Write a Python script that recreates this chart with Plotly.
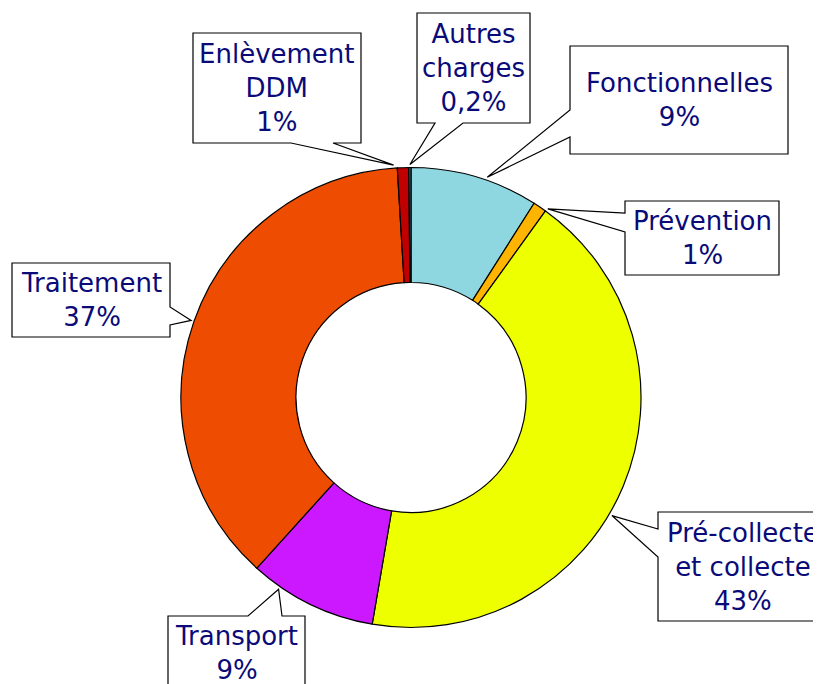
import math
import plotly.graph_objects as go

# ---- data ----
categories = ["Fonctionnelles", "Prévention", "Pré-collecte<br>et collecte", "Transport",
              "Traitement", "Enlèvement<br>DDM", "Autres<br>charges"]
values = [9.0, 0.95, 42.8, 9.0, 37.4, 0.8, 0.15]
pct_labels = ["9%", "1%", "43%", "9%", "37%", "1%", "0,2%"]

# ---- style ----
colors = ["#8ED6E0", "#FFB400", "#EEFF00", "#CC18FF", "#EE4C00", "#C00000", "#3D6E8C"]
TEXT_COLOR = "#0A0A78"
FONT = "DejaVu Sans, sans-serif"

OFF = 8                      # page body margin
W, H = 813, 676              # figure size
CX, CY, R = 411, 397.5, 230  # pie centre / radius in window pixels

# callout boxes in window pixels: (x0, y0, x1, y1, side of pointer, base start, base end)
boxes = [
    (570, 46, 788, 154, "left", 110, 137),
    (625, 201, 779, 275, "left", 213, 232),
    (658, 512, 828, 621, "left", 529, 557),
    (168, 616, 305, 690, "top", 248, 282),
    (12, 263, 170, 337, "right", 307, 325),
    (193, 33, 361, 143, "bottom", 291, 333),
    (417, 13, 530, 123, "bottom", 435, 463),
]
# where along each slice's angular span the pointer touches (0 = start, 1 = end)
anchor_frac = [0.59, 1.05, 0.55, 0.77, 0.5, -0.3, 0.5]


def px(x):
    return (x - OFF) / W


def py(y):
    return 1 - (y - OFF) / H


def P(x, y):
    return f"{px(x):.5f},{py(y):.5f}"


fig = go.Figure(go.Pie(
    labels=[c.replace("<br>", " ") for c in categories],
    values=values,
    sort=False,
    direction="clockwise",
    rotation=0,
    hole=0.5,
    textinfo="none",
    marker=dict(colors=colors, line=dict(color="black", width=1.2)),
    domain=dict(x=[px(CX - R), px(CX + R)], y=[py(CY + R), py(CY - R)]),
    showlegend=False,
))

total = sum(values)
cum = 0.0
shapes = []
annotations = []
for cat, v, pct, box, fr in zip(categories, values, pct_labels, boxes, anchor_frac):
    ang = (cum + v * fr) / total * 2 * math.pi
    cum += v
    tx = CX + (R + 3) * math.sin(ang)
    ty = CY - (R + 3) * math.cos(ang)
    x0, y0, x1, y1, side, a, b = box
    if side == "left":
        pts = [(x0, y0), (x1, y0), (x1, y1), (x0, y1), (x0, b), (tx, ty), (x0, a)]
    elif side == "right":
        pts = [(x0, y0), (x1, y0), (x1, a), (tx, ty), (x1, b), (x1, y1), (x0, y1)]
    elif side == "top":
        pts = [(x0, y0), (a, y0), (tx, ty), (b, y0), (x1, y0), (x1, y1), (x0, y1)]
    else:
        pts = [(x0, y0), (x1, y0), (x1, y1), (b, y1), (tx, ty), (a, y1), (x0, y1)]
    path = "M " + " L ".join(P(x, y) for x, y in pts) + " Z"
    shapes.append(dict(type="path", path=path, xref="paper", yref="paper",
                       fillcolor="white", line=dict(color="black", width=1.2), layer="above"))
    annotations.append(dict(
        x=px((x0 + x1) / 2), y=py((y0 + y1) / 2), xref="paper", yref="paper",
        text=f"{cat}<br>{pct}", showarrow=False, xanchor="center", yanchor="middle",
        align="center", font=dict(family=FONT, size=26, color=TEXT_COLOR),
    ))

fig.update_layout(
    width=W, height=H,
    margin=dict(l=0, r=0, t=0, b=0),
    paper_bgcolor="white",
    plot_bgcolor="white",
    shapes=shapes,
    annotations=annotations,
)

fig.write_html("out.html")
